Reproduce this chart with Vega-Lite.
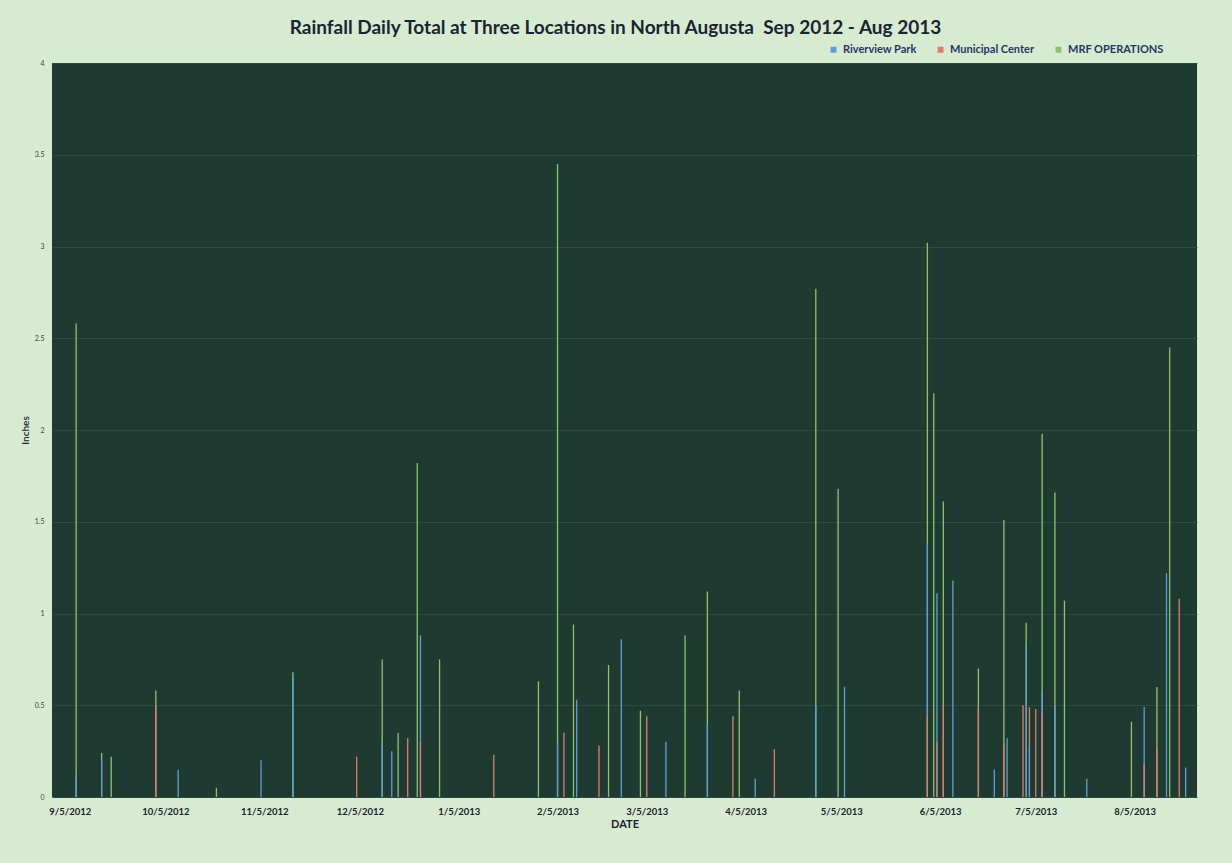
{
  "$schema": "https://vega.github.io/schema/vega-lite/v6.json",
  "width": 1145,
  "height": 734,
  "autosize": "none",
  "padding": {"left": 52, "top": 63, "right": 35, "bottom": 66},
  "background": "#d7ebd0",
  "title": {
    "text": "Rainfall Daily Total at Three Locations in North Augusta\u00a0\u00a0Sep 2012 - Aug 2013",
    "font": "Lato",
    "fontSize": 19,
    "fontWeight": "bold",
    "color": "#1a2433",
    "anchor": "middle",
    "dx": -9,
    "offset": 6
  },
  "data": {
    "values": [
      {"date": "2012-09-07", "site": "MRF OPERATIONS", "inches": 2.58},
      {"date": "2012-09-07", "site": "Riverview Park", "inches": 0.12},
      {"date": "2012-09-15", "site": "MRF OPERATIONS", "inches": 0.24},
      {"date": "2012-09-15", "site": "Riverview Park", "inches": 0.2},
      {"date": "2012-09-18", "site": "MRF OPERATIONS", "inches": 0.22},
      {"date": "2012-10-02", "site": "MRF OPERATIONS", "inches": 0.58},
      {"date": "2012-10-02", "site": "Municipal Center", "inches": 0.5},
      {"date": "2012-10-09", "site": "Riverview Park", "inches": 0.15},
      {"date": "2012-10-21", "site": "MRF OPERATIONS", "inches": 0.05},
      {"date": "2012-11-04", "site": "Riverview Park", "inches": 0.2},
      {"date": "2012-11-14", "site": "MRF OPERATIONS", "inches": 0.68},
      {"date": "2012-11-14", "site": "Riverview Park", "inches": 0.65},
      {"date": "2012-12-04", "site": "Municipal Center", "inches": 0.22},
      {"date": "2012-12-12", "site": "MRF OPERATIONS", "inches": 0.75},
      {"date": "2012-12-12", "site": "Riverview Park", "inches": 0.3},
      {"date": "2012-12-15", "site": "Riverview Park", "inches": 0.25},
      {"date": "2012-12-17", "site": "MRF OPERATIONS", "inches": 0.35},
      {"date": "2012-12-20", "site": "Municipal Center", "inches": 0.32},
      {"date": "2012-12-23", "site": "MRF OPERATIONS", "inches": 1.82},
      {"date": "2012-12-24", "site": "Riverview Park", "inches": 0.88},
      {"date": "2012-12-24", "site": "Municipal Center", "inches": 0.3},
      {"date": "2012-12-30", "site": "MRF OPERATIONS", "inches": 0.75},
      {"date": "2013-01-16", "site": "Municipal Center", "inches": 0.23},
      {"date": "2013-01-30", "site": "MRF OPERATIONS", "inches": 0.63},
      {"date": "2013-02-05", "site": "MRF OPERATIONS", "inches": 3.45},
      {"date": "2013-02-05", "site": "Riverview Park", "inches": 0.3},
      {"date": "2013-02-07", "site": "Municipal Center", "inches": 0.35},
      {"date": "2013-02-10", "site": "MRF OPERATIONS", "inches": 0.94},
      {"date": "2013-02-11", "site": "Riverview Park", "inches": 0.53},
      {"date": "2013-02-18", "site": "Municipal Center", "inches": 0.28},
      {"date": "2013-02-21", "site": "MRF OPERATIONS", "inches": 0.72},
      {"date": "2013-02-25", "site": "Riverview Park", "inches": 0.86},
      {"date": "2013-03-03", "site": "MRF OPERATIONS", "inches": 0.47},
      {"date": "2013-03-05", "site": "Municipal Center", "inches": 0.44},
      {"date": "2013-03-11", "site": "Riverview Park", "inches": 0.3},
      {"date": "2013-03-17", "site": "MRF OPERATIONS", "inches": 0.88},
      {"date": "2013-03-24", "site": "MRF OPERATIONS", "inches": 1.12},
      {"date": "2013-03-24", "site": "Riverview Park", "inches": 0.4},
      {"date": "2013-04-01", "site": "Municipal Center", "inches": 0.44},
      {"date": "2013-04-03", "site": "MRF OPERATIONS", "inches": 0.58},
      {"date": "2013-04-08", "site": "Riverview Park", "inches": 0.1},
      {"date": "2013-04-14", "site": "Municipal Center", "inches": 0.26},
      {"date": "2013-04-27", "site": "MRF OPERATIONS", "inches": 2.77},
      {"date": "2013-04-27", "site": "Riverview Park", "inches": 0.5},
      {"date": "2013-05-04", "site": "MRF OPERATIONS", "inches": 1.68},
      {"date": "2013-05-06", "site": "Riverview Park", "inches": 0.6},
      {"date": "2013-06-01", "site": "MRF OPERATIONS", "inches": 3.02},
      {"date": "2013-06-01", "site": "Riverview Park", "inches": 1.38},
      {"date": "2013-06-01", "site": "Municipal Center", "inches": 0.44},
      {"date": "2013-06-03", "site": "MRF OPERATIONS", "inches": 2.2},
      {"date": "2013-06-04", "site": "Riverview Park", "inches": 1.11},
      {"date": "2013-06-04", "site": "Municipal Center", "inches": 0.3},
      {"date": "2013-06-06", "site": "MRF OPERATIONS", "inches": 1.61},
      {"date": "2013-06-06", "site": "Municipal Center", "inches": 0.5},
      {"date": "2013-06-09", "site": "Riverview Park", "inches": 1.18},
      {"date": "2013-06-17", "site": "MRF OPERATIONS", "inches": 0.7},
      {"date": "2013-06-17", "site": "Municipal Center", "inches": 0.49},
      {"date": "2013-06-22", "site": "Riverview Park", "inches": 0.15},
      {"date": "2013-06-25", "site": "MRF OPERATIONS", "inches": 1.51},
      {"date": "2013-06-25", "site": "Municipal Center", "inches": 0.29},
      {"date": "2013-06-26", "site": "Riverview Park", "inches": 0.32},
      {"date": "2013-07-01", "site": "Municipal Center", "inches": 0.5},
      {"date": "2013-07-02", "site": "MRF OPERATIONS", "inches": 0.95},
      {"date": "2013-07-02", "site": "Riverview Park", "inches": 0.84},
      {"date": "2013-07-03", "site": "Municipal Center", "inches": 0.49},
      {"date": "2013-07-03", "site": "Riverview Park", "inches": 0.27},
      {"date": "2013-07-05", "site": "Municipal Center", "inches": 0.48},
      {"date": "2013-07-07", "site": "MRF OPERATIONS", "inches": 1.98},
      {"date": "2013-07-07", "site": "Riverview Park", "inches": 0.58},
      {"date": "2013-07-07", "site": "Municipal Center", "inches": 0.46},
      {"date": "2013-07-11", "site": "MRF OPERATIONS", "inches": 1.66},
      {"date": "2013-07-11", "site": "Riverview Park", "inches": 0.5},
      {"date": "2013-07-14", "site": "MRF OPERATIONS", "inches": 1.07},
      {"date": "2013-07-21", "site": "Riverview Park", "inches": 0.1},
      {"date": "2013-08-04", "site": "MRF OPERATIONS", "inches": 0.41},
      {"date": "2013-08-08", "site": "Riverview Park", "inches": 0.49},
      {"date": "2013-08-08", "site": "Municipal Center", "inches": 0.18},
      {"date": "2013-08-12", "site": "MRF OPERATIONS", "inches": 0.6},
      {"date": "2013-08-12", "site": "Municipal Center", "inches": 0.27},
      {"date": "2013-08-15", "site": "Riverview Park", "inches": 1.22},
      {"date": "2013-08-16", "site": "MRF OPERATIONS", "inches": 2.45},
      {"date": "2013-08-19", "site": "Municipal Center", "inches": 1.08},
      {"date": "2013-08-21", "site": "Riverview Park", "inches": 0.16}
    ]
  },
  "mark": {"type": "bar", "width": 1.3},
  "encoding": {
    "x": {
      "field": "date",
      "type": "temporal",
      "title": "DATE",
      "scale": {
        "type": "utc",
        "domain": [
          {"year": 2012, "month": 9, "date": 1, "utc": true},
          {"year": 2013, "month": 8, "date": 23, "utc": true}
        ]
      },
      "axis": {
        "labelExpr": "utcFormat(datum.value, '%-m/%-d/%Y')",
        "values": [
          {"year": 2012, "month": 9, "date": 5, "utc": true},
          {"year": 2012, "month": 10, "date": 5, "utc": true},
          {"year": 2012, "month": 11, "date": 5, "utc": true},
          {"year": 2012, "month": 12, "date": 5, "utc": true},
          {"year": 2013, "month": 1, "date": 5, "utc": true},
          {"year": 2013, "month": 2, "date": 5, "utc": true},
          {"year": 2013, "month": 3, "date": 5, "utc": true},
          {"year": 2013, "month": 4, "date": 5, "utc": true},
          {"year": 2013, "month": 5, "date": 5, "utc": true},
          {"year": 2013, "month": 6, "date": 5, "utc": true},
          {"year": 2013, "month": 7, "date": 5, "utc": true},
          {"year": 2013, "month": 8, "date": 5, "utc": true}
        ],
        "grid": false,
        "domain": false,
        "ticks": false,
        "labelFont": "Lato",
        "labelFontSize": 9.5,
        "labelFontWeight": "bold",
        "labelColor": "#1a2030",
        "labelPadding": 9,
        "labelFlush": false,
        "titleFont": "Lato",
        "titleFontSize": 11,
        "titleFontWeight": "bold",
        "titleColor": "#1a2030",
        "titlePadding": 3
      }
    },
    "y": {
      "field": "inches",
      "type": "quantitative",
      "title": "Inches",
      "stack": null,
      "scale": {"domain": [0, 4], "nice": false},
      "axis": {
        "values": [0, 0.5, 1, 1.5, 2, 2.5, 3, 3.5, 4],
        "format": "~g",
        "grid": true,
        "gridColor": "#2c4a40",
        "domain": false,
        "ticks": false,
        "labelFont": "Lato",
        "labelFontSize": 7,
        "labelColor": "#444444",
        "labelPadding": 8,
        "titleFont": "Lato",
        "titleFontSize": 10,
        "titleFontWeight": 600,
        "titleColor": "#1a2030",
        "titlePadding": 4
      }
    },
    "color": {
      "field": "site",
      "type": "nominal",
      "scale": {
        "domain": ["Riverview Park", "Municipal Center", "MRF OPERATIONS"],
        "range": ["#5e9fd6", "#e07b72", "#8cc46c"]
      },
      "legend": {
        "title": null,
        "orient": "none",
        "direction": "horizontal",
        "legendX": 776,
        "legendY": -19,
        "symbolType": "square",
        "symbolSize": 36,
        "symbolOpacity": 1,
        "labelFont": "Lato",
        "labelFontSize": 11,
        "labelFontWeight": "bold",
        "labelColor": "#1f3864",
        "columnPadding": 18,
        "labelOffset": 4
      }
    }
  },
  "config": {
    "view": {"fill": "#1f3b31", "stroke": null}
  }
}
